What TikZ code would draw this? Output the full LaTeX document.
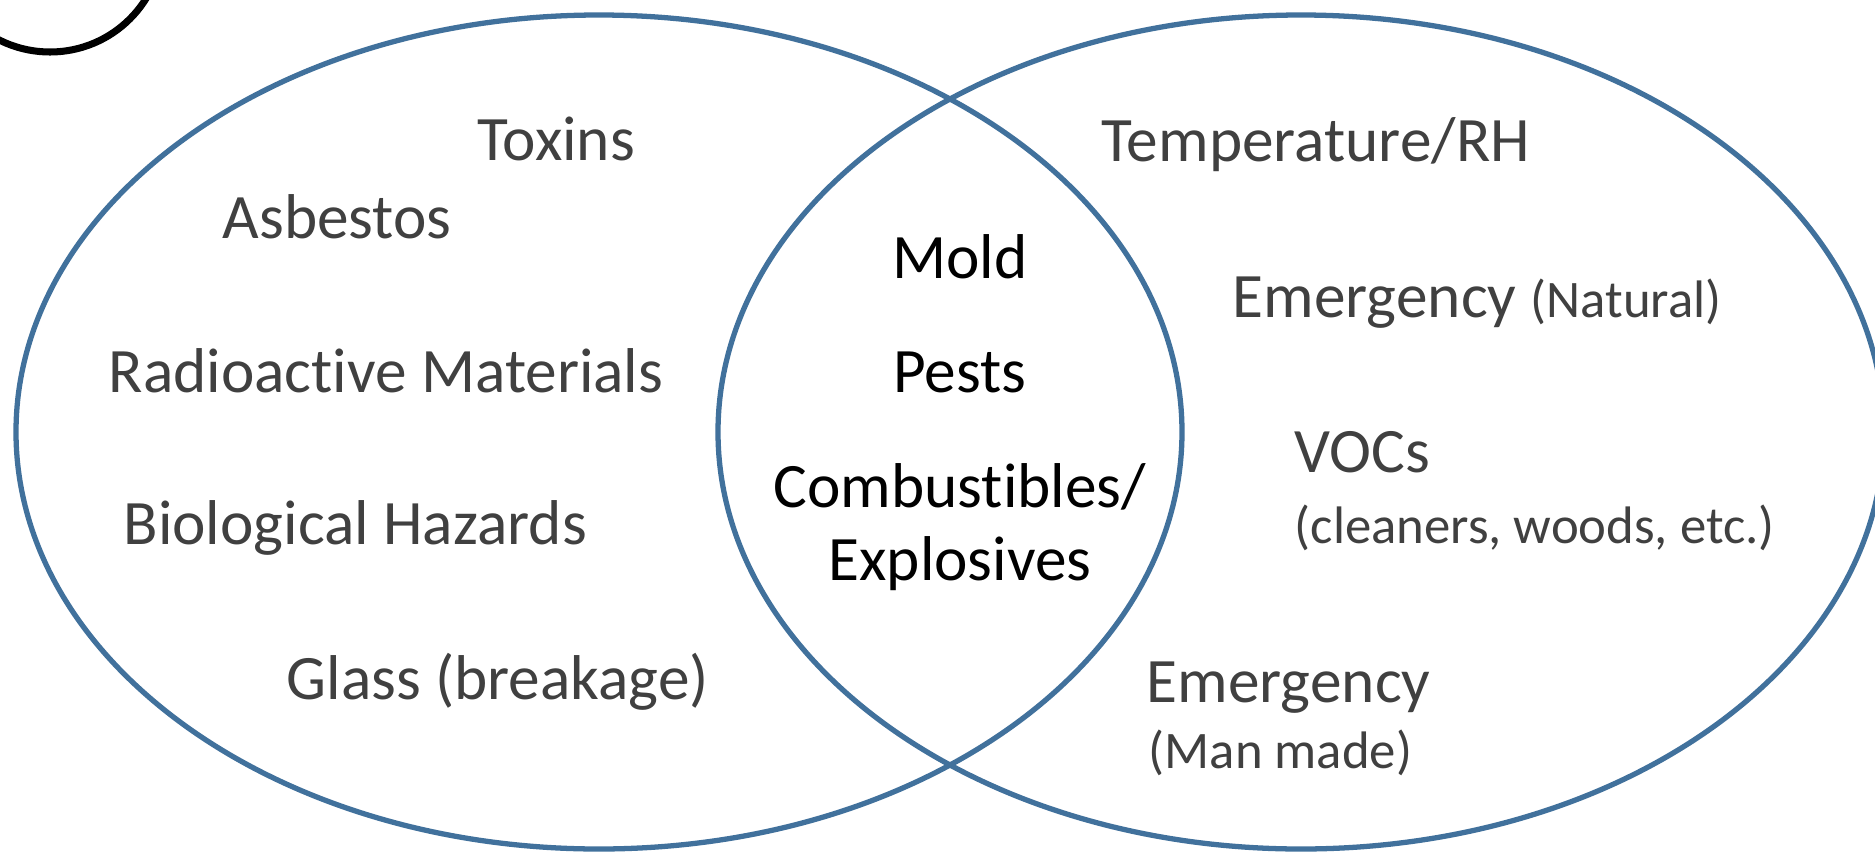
\documentclass[tikz,border=0pt]{standalone}
\usepackage{fontspec}
\setmainfont{Carlito}[RawFeature={-liga;-clig;-calt;-dlig}]
\definecolor{vennblue}{RGB}{65,113,156}
\definecolor{txtgray}{RGB}{64,64,64}
\begin{document}
\begin{tikzpicture}[x=0.01cm,y=-0.01cm,
  venn/.style={draw=vennblue,line width=1.5pt},
  outer/.style={text=txtgray,font=\fontsize{18}{22}\selectfont,inner sep=0pt,anchor=base west},
  small/.style={text=txtgray,font=\fontsize{15}{18}\selectfont,inner sep=0pt,anchor=base west},
  inner/.style={text=black,font=\fontsize{18}{21}\selectfont,inner sep=0pt,anchor=base}]
\useasboundingbox (0,0) rectangle (1875,851);
\clip (0,0) rectangle (1875,851);
\fill[white] (0,0) rectangle (1875,851);
% partial black circle at top left
\draw[black,line width=2pt] (50,-61) circle [radius=113];
% Venn ellipses
\draw[venn] (599,432) ellipse [x radius=583, y radius=417];
\draw[venn] (1301,432) ellipse [x radius=583, y radius=417];
% left set
\node[outer] (toxins) at (477,160) {Toxins};
\node[outer] (asbestos) at (222,238) {Asbestos};
\node[outer] (radio) at (108,392) {Radioac\kern0pt tive Materials};
\node[outer] (bio) at (123,544) {Biological Hazards};
\node[outer] (glass) at (286,699) {Glass (breakage)};
% intersection
\node[inner] (mold) at (960,278) {Mold};
\node[inner] (pests) at (960,392) {Pests};
\node[inner] (comb) at (960,507) {Combustibles/};
\node[inner] (expl) at (960,580) {Explosives};
% right set
\node[outer] (temp) at (1101,161) {Temperature/RH};
\node[outer] (emnat) at (1232,317) {Emergency {\fontsize{15}{18}\selectfont(Natural)}};
\node[outer] (vocs) at (1294,472) {VOCs};
\node[small] (clean) at (1294,543) {(cleaners, woods, etc.)};
\node[outer] (emman) at (1146,702) {Emergency};
\node[small] (man) at (1148,768) {(Man made)};
\end{tikzpicture}
\end{document}
